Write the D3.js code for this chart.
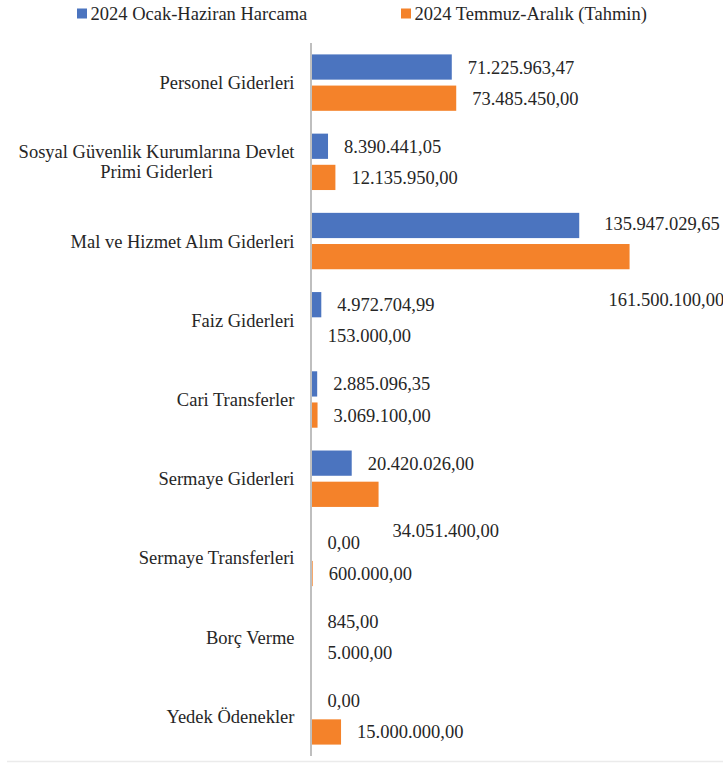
<!DOCTYPE html>
<html>
<head>
<meta charset="utf-8">
<script src="https://cdn.jsdelivr.net/npm/d3@7"></script>
<style>
  body { margin: 0; background: #fff; }
  svg text { font-family: "Liberation Serif", "Times New Roman", serif; fill: #262626; }
</style>
</head>
<body>
<svg width="723" height="763"></svg>
<script>
const categories = [
  "Personel Giderleri",
  "Sosyal Güvenlik Kurumlarına Devlet Primi Giderleri",
  "Mal ve Hizmet Alım Giderleri",
  "Faiz Giderleri",
  "Cari Transferler",
  "Sermaye Giderleri",
  "Sermaye Transferleri",
  "Borç Verme",
  "Yedek Ödenekler"
];
const seriesNames = ["2024 Ocak-Haziran Harcama", "2024 Temmuz-Aralık (Tahmin)"];
const harcama = [71225963.47, 8390441.05, 135947029.65, 4972704.99, 2885096.35, 20420026.00, 0, 845, 0];
const tahmin = [73485450, 12135950, 161500100, 153000, 3069100, 34051400, 600000, 5000, 15000000];
const colors = ["#4b74bf", "#f4822a"];

// a few labels were dragged by hand in the original
const nudge = {
  "Mal ve Hizmet Alım Giderleri|0": [9, -2],
  "Mal ve Hizmet Alım Giderleri|1": [-37, 43],
  "Sermaye Giderleri|1": [-2, 36]
};

const tr = d3.formatLocale({ decimal: ",", thousands: ".", grouping: [3], currency: ["", ""] });
const fmt = tr.format(",.2f");

const svg = d3.select("svg");
const fontSize = 18.5;

const x = d3.scaleLinear().domain([0, 180e6]).range([311.5, 666]);
const y = d3.scaleBand().domain(categories).range([43, 756])
  .paddingInner(0.288).paddingOuter(0.144);
const ySub = d3.scaleBand().domain([0, 1]).range([0, y.bandwidth()]).paddingInner(0.19);

const rows = categories.map((c, i) => ({ cat: c, vals: [harcama[i], tahmin[i]] }));

// bottom border of chart area
svg.append("line")
  .attr("x1", 7).attr("x2", 723)
  .attr("y1", 761.5).attr("y2", 761.5)
  .attr("stroke", "#ebebeb").attr("stroke-width", 1.5);

const group = svg.append("g").selectAll("g")
  .data(rows)
  .enter().append("g")
  .attr("transform", d => `translate(0,${y(d.cat)})`);

group.selectAll("rect")
  .data(d => d.vals.map((v, k) => ({ cat: d.cat, v, k })))
  .enter().append("rect")
  .attr("x", x(0))
  .attr("y", d => ySub(d.k))
  .attr("width", d => x(d.v) - x(0))
  .attr("height", ySub.bandwidth())
  .attr("fill", d => colors[d.k]);

group.selectAll("text.val")
  .data(d => d.vals.map((v, k) => ({ cat: d.cat, v, k })))
  .enter().append("text")
  .attr("class", "val")
  .attr("x", d => x(d.v) + 16 + ((nudge[d.cat + "|" + d.k] || [0, 0])[0]))
  .attr("y", d => ySub(d.k) + ySub.bandwidth() / 2 + ((nudge[d.cat + "|" + d.k] || [0, 0])[1]))
  .attr("dy", "0.35em")
  .style("font-size", fontSize + "px")
  .text(d => fmt(d.v));

// value axis line
svg.append("line")
  .attr("x1", 311).attr("x2", 311)
  .attr("y1", 43).attr("y2", 756)
  .attr("stroke", "#bfbfbf").attr("stroke-width", 2);

// category labels, wrapped, lines centred on the longest one
const labelRight = 294.5;
const lineH = 20;
categories.forEach(c => {
  const t = svg.append("text").style("font-size", fontSize + "px");
  const words = c.split(" ");
  const lines = [];
  let cur = [];
  words.forEach(w => {
    t.text(cur.concat(w).join(" "));
    if (cur.length && t.node().getComputedTextLength() > 290) {
      lines.push(cur.join(" "));
      cur = [w];
    } else cur.push(w);
  });
  lines.push(cur.join(" "));
  t.text(lines[0]);
  const w0 = t.node().getComputedTextLength();
  t.remove();
  const cy = y(c) + y.bandwidth() / 2;
  lines.forEach((ln, j) => {
    svg.append("text")
      .attr("x", labelRight - w0 / 2)
      .attr("y", cy + (j - (lines.length - 1) / 2) * lineH)
      .attr("dy", "0.35em")
      .attr("text-anchor", "middle")
      .style("font-size", fontSize + "px")
      .text(ln);
  });
});

// legend
const legendX = [77, 401];
const legend = svg.append("g").selectAll("g")
  .data(seriesNames)
  .enter().append("g")
  .attr("transform", (d, i) => `translate(${legendX[i]},0)`);
legend.append("rect")
  .attr("x", 0).attr("y", 8.5)
  .attr("width", 10).attr("height", 10)
  .attr("fill", (d, i) => colors[i]);
legend.append("text")
  .attr("x", 13.5).attr("y", 13.5)
  .attr("dy", "0.35em")
  .style("font-size", fontSize + "px")
  .text(d => d);
</script>
</body>
</html>
